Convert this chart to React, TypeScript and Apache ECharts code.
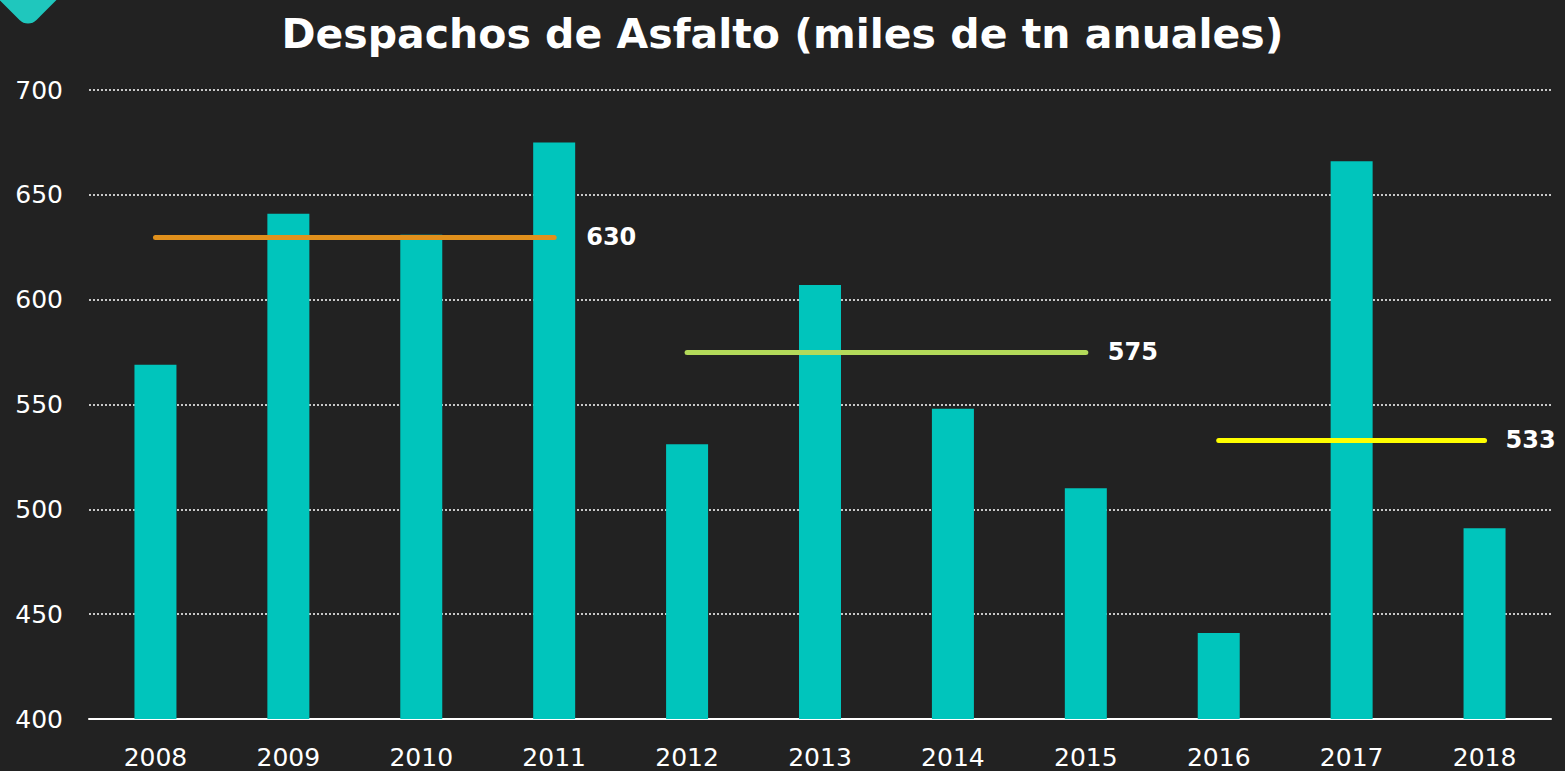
import React, { useEffect, useRef } from "react";
import * as echarts from "echarts";

const categories = ["2008", "2009", "2010", "2011", "2012", "2013", "2014", "2015", "2016", "2017", "2018"];
const despachos = [569, 641, 631, 675, 531, 607, 548, 510, 441, 666, 491];
const averages = [
  { from: "2008", to: "2011", value: 630, color: "#E0901C" },
  { from: "2012", to: "2015", value: 575, color: "#B3DA5A" },
  { from: "2016", to: "2018", value: 533, color: "#FFFF00" },
];
const labelGaps = [32, 22, 21];
const yTicks = { min: 400, max: 700, interval: 50 };
const title = "Despachos de Asfalto (miles de tn anuales)";

export default function App() {
  const ref = useRef<HTMLDivElement>(null);
  useEffect(() => {
    if (!ref.current) return;
    const chart = echarts.init(ref.current, null, { renderer: "svg" });
    chart.setOption({
      animation: false,
      backgroundColor: "#222222",
      title: {
        text: title,
        left: "center",
        top: 8,
        textStyle: { color: "#ffffff", fontSize: 41, fontWeight: "bold", fontFamily: "DejaVu Sans" },
      },
      graphic: [
        {
          type: "rect",
          x: 28,
          y: -14,
          rotation: Math.PI / 4,
          originX: 0,
          originY: 0,
          shape: { x: -30, y: -30, width: 60, height: 60, r: 12 },
          style: { fill: "#1FC7BD" },
          z: 10,
        },
      ],
      grid: { left: 89, right: 14, top: 90, bottom: 52 },
      xAxis: {
        type: "category",
        data: categories,
        axisLine: { lineStyle: { color: "#ffffff", width: 2 } },
        axisTick: { show: false },
        axisLabel: { color: "#ffffff", fontSize: 25, fontFamily: "DejaVu Sans", margin: 26 },
      },
      yAxis: {
        type: "value",
        min: yTicks.min,
        max: yTicks.max,
        interval: yTicks.interval,
        axisLine: { show: false },
        axisTick: { show: false },
        axisLabel: { color: "#ffffff", fontSize: 25, fontFamily: "DejaVu Sans", margin: 26 },
        splitLine: { lineStyle: { color: "#ffffff", type: [2, 2], width: 1.5 } },
      },
      series: [
        {
          type: "bar",
          data: despachos,
          barWidth: 42,
          itemStyle: { color: "#00C5BC" },
          markLine: {
            silent: true,
            symbol: "none",
            data: averages.map((a, i) => [
              {
                coord: [a.from, a.value],
                lineStyle: { color: a.color, width: 5, type: "solid", cap: "round" },
                label: {
                  show: true,
                  position: "end",
                  distance: labelGaps[i],
                  formatter: String(a.value),
                  color: "#ffffff",
                  fontSize: 24,
                  fontWeight: "bold",
                  fontFamily: "DejaVu Sans",
                },
              },
              { coord: [a.to, a.value] },
            ]),
          },
        },
      ],
    });
    return () => chart.dispose();
  }, []);
  return <div ref={ref} style={{ position: "fixed", left: 0, top: 0, width: 1565, height: 771 }} />;
}
